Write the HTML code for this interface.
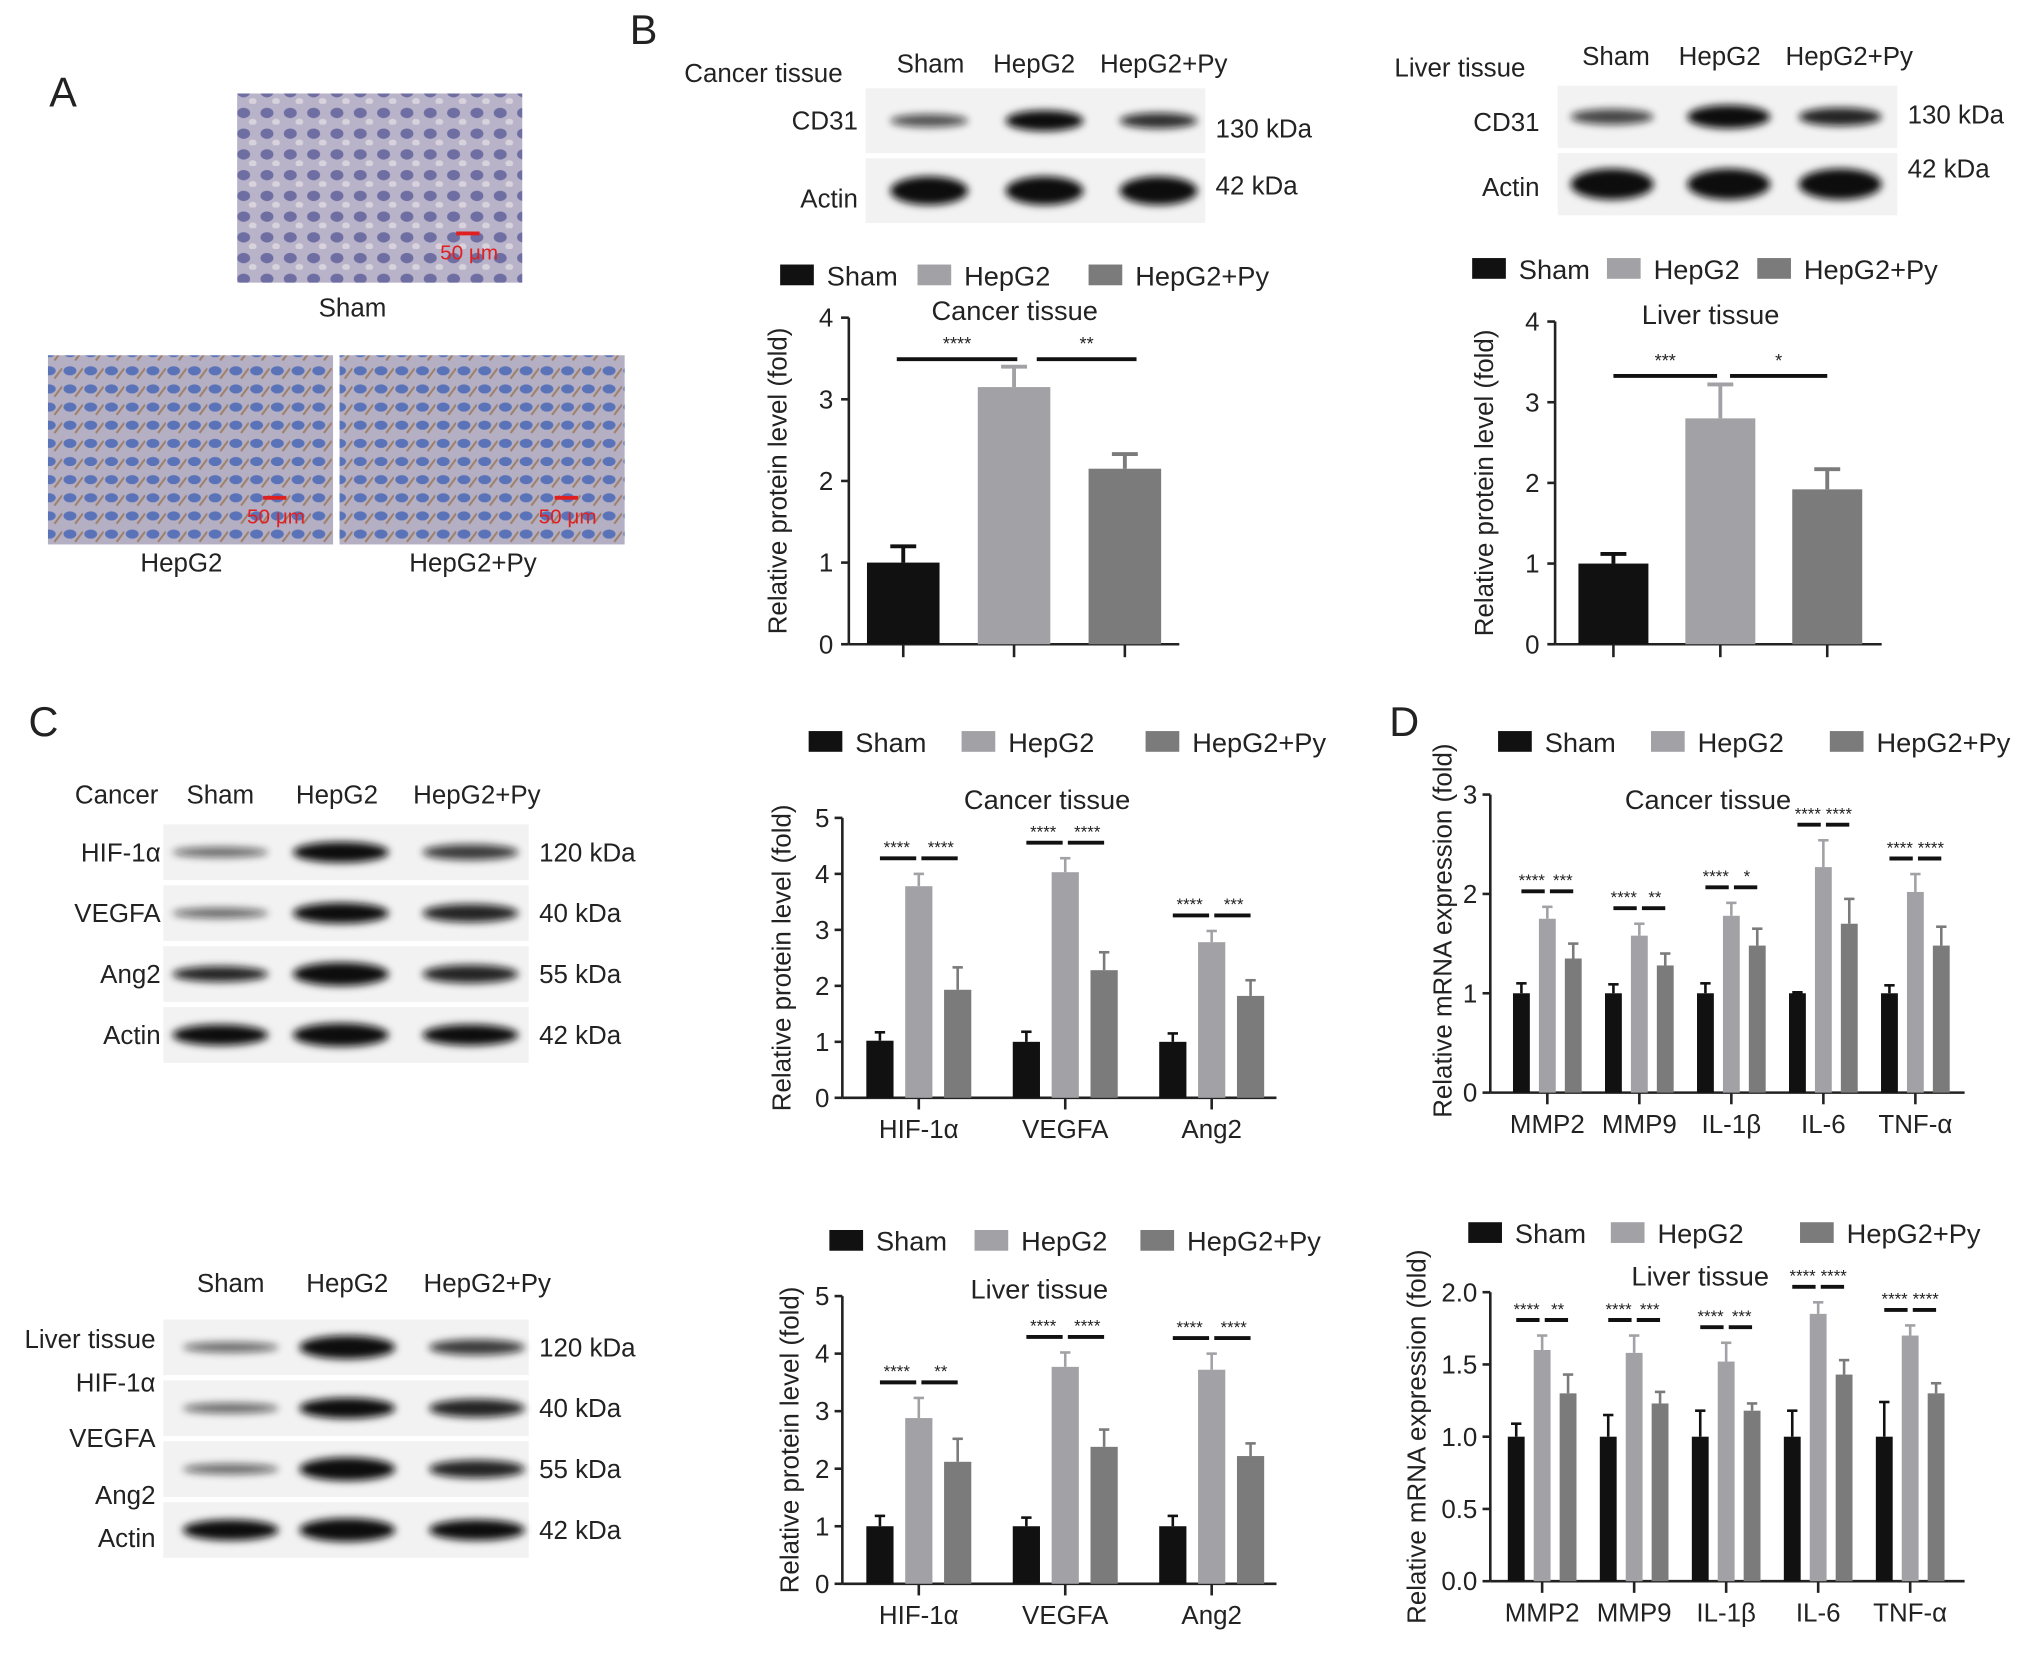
<!DOCTYPE html>
<html><head><meta charset="utf-8"><style>
html,body{margin:0;padding:0;background:#fff;}
svg{display:block;}
text{font-family:"Liberation Sans",sans-serif;fill:#222;}
</style></head><body>
<svg id="fig" width="2032" height="1663" viewBox="0 0 1568 1283" xmlns="http://www.w3.org/2000/svg">
<defs>
<filter id="blur" x="-30%" y="-100%" width="160%" height="300%"><feGaussianBlur stdDeviation="3"/></filter>
<pattern id="cellsP" width="18" height="16" patternUnits="userSpaceOnUse"><rect width="18" height="16" fill="#b9b3c9"/><ellipse cx="8" cy="7" rx="5" ry="4" fill="#6f6ea3"/><ellipse cx="15" cy="14" rx="3" ry="2.5" fill="#d8d2dc"/></pattern>
<pattern id="cellsB" width="16" height="14" patternUnits="userSpaceOnUse"><rect width="16" height="14" fill="#b4afc3"/><ellipse cx="6" cy="6" rx="5" ry="3.5" fill="#5a73b8"/><line x1="10" y1="12" x2="16" y2="4" stroke="#9f7f66" stroke-width="1.5"/></pattern>
</defs>
<g id="root"></g>
</svg>
<script>
const NS='http://www.w3.org/2000/svg';
const root=document.getElementById('root');
function mk(tag,attrs,parent,txt){const e=document.createElementNS(NS,tag);for(const k in attrs)e.setAttribute(k,attrs[k]);if(txt!==undefined)e.textContent=txt;(parent||root).appendChild(e);return e;}
const COLORS=['#111111','#a2a2a6','#7b7b7b'];
const groups=['Sham','HepG2','HepG2+Py'];

// ---- data ----
const bCancerVals=[1.0,3.15,2.15];
const bCancerErr=[0.2,0.25,0.18];
const bLiverVals=[1.0,2.8,1.92];
const bLiverErr=[0.12,0.42,0.25];
const cCats=['HIF-1α','VEGFA','Ang2'];
const cCancerSham=[1.02,1.0,1.0];
const cCancerHep=[3.78,4.03,2.78];
const cCancerPy=[1.93,2.28,1.82];
const cCancerErrSham=[0.15,0.18,0.15];
const cCancerErrHep=[0.22,0.25,0.2];
const cCancerErrPy=[0.4,0.32,0.28];
const cLiverSham=[1.0,1.0,1.0];
const cLiverHep=[2.88,3.77,3.72];
const cLiverPy=[2.12,2.38,2.22];
const cLiverErrSham=[0.18,0.15,0.18];
const cLiverErrHep=[0.35,0.25,0.28];
const cLiverErrPy=[0.4,0.3,0.22];
const dCats=['MMP2','MMP9','IL-1β','IL-6','TNF-α'];
const dCancerSham=[1.0,1.0,1.0,1.0,1.0];
const dCancerHep=[1.75,1.58,1.78,2.27,2.02];
const dCancerPy=[1.35,1.28,1.48,1.7,1.48];
const dCancerErrSham=[0.1,0.09,0.1,0.01,0.08];
const dCancerErrHep=[0.12,0.12,0.13,0.27,0.18];
const dCancerErrPy=[0.15,0.12,0.17,0.25,0.19];
const dLiverSham=[1.0,1.0,1.0,1.0,1.0];
const dLiverHep=[1.6,1.58,1.52,1.85,1.7];
const dLiverPy=[1.3,1.23,1.18,1.43,1.3];
const dLiverErrSham=[0.09,0.15,0.18,0.18,0.24];
const dLiverErrHep=[0.1,0.12,0.13,0.08,0.07];
const dLiverErrPy=[0.13,0.08,0.05,0.1,0.07];
const sigDC=[['****','***'],['****','**'],['****','*'],['****','****'],['****','****']];
const sigDL=[['****','**'],['****','***'],['****','***'],['****','****'],['****','****']];
const sigCC=[['****','****'],['****','****'],['****','***']];
const sigCL=[['****','**'],['****','****'],['****','****']];

function legend(x,y,gaps,name){
  const g=mk('g',{});
  let cx=x;
  groups.forEach((s,i)=>{
    const r=mk('rect',{x:cx,y:y-9,width:26,height:16,fill:COLORS[i]},g);
    
    
    const t=mk('text',{x:cx+36,y:y+7,'font-size':21},g,s);
    
    
    cx+=gaps[i];
  });
}

function chartB(o){
  const g=mk('g',{});
  const y=v=>o.y0-(v/o.ymax)*(o.y0-o.ytop);
  mk('line',{x1:o.x0,y1:o.ytop,x2:o.x0,y2:o.y0,stroke:'#222','stroke-width':2},g);
  mk('line',{x1:o.x0,y1:o.y0,x2:o.x1,y2:o.y0,stroke:'#222','stroke-width':2},g);
  for(let t=0;t<=o.ymax;t++){
    mk('line',{x1:o.x0-6,y1:y(t),x2:o.x0,y2:y(t),stroke:'#222','stroke-width':2},g);
    const tx=mk('text',{x:o.x0-12,y:y(t)+7,'font-size':20,'text-anchor':'end'},g,String(t));
    
    
  }
  o.vals.forEach((v,i)=>{
    const cx=o.cx[i];
    mk('line',{x1:cx,y1:o.y0,x2:cx,y2:o.y0+10,stroke:'#222','stroke-width':2},g);
    const e=y(v+o.err[i]);
    mk('line',{x1:cx,y1:y(v),x2:cx,y2:e,stroke:COLORS[i],'stroke-width':3},g);
    mk('line',{x1:cx-10,y1:e,x2:cx+10,y2:e,stroke:COLORS[i],'stroke-width':3},g);
    const b=mk('rect',{x:cx-o.bw/2,y:y(v),width:o.bw,height:o.y0-y(v),fill:COLORS[i]},g);
    
    
  });
  const t=mk('text',{x:o.titleX,y:o.ytop+2,'font-size':21,'text-anchor':'middle'},g,o.title);
  
  
  const yl=mk('text',{transform:`translate(${o.x0-48},${(o.ytop+o.y0)/2}) rotate(-90)`,'font-size':20,'text-anchor':'middle'},g,'Relative protein level (fold)');
  
  
  o.sig.forEach(s=>{
    mk('line',{x1:s[0],y1:s[2],x2:s[1],y2:s[2],stroke:'#111','stroke-width':3},g);
    mk('text',{x:(s[0]+s[1])/2,y:s[2]-7,'font-size':14,'text-anchor':'middle'},g,s[3]);
  });
}

function chartG(o){
  const g=mk('g',{});
  const y=v=>o.y0-(v/o.ymax)*(o.y0-o.ytop);
  mk('line',{x1:o.x0,y1:o.ytop,x2:o.x0,y2:o.y0,stroke:'#222','stroke-width':2},g);
  mk('line',{x1:o.x0,y1:o.y0,x2:o.x1,y2:o.y0,stroke:'#222','stroke-width':2},g);
  o.ticks.forEach(t=>{
    mk('line',{x1:o.x0-6,y1:y(t),x2:o.x0,y2:y(t),stroke:'#222','stroke-width':2},g);
    const tx=mk('text',{x:o.x0-10,y:y(t)+7,'font-size':20,'text-anchor':'end'},g,o.fmt(t));
    
    
  });
  const series=[o.s0,o.s1,o.s2], errs=[o.e0,o.e1,o.e2];
  o.cats.forEach((c,ci)=>{
    const gx=o.gx0+ci*o.gsp;
    mk('line',{x1:gx,y1:o.y0,x2:gx,y2:o.y0+9,stroke:'#222','stroke-width':2},g);
    const cl=mk('text',{x:gx,y:o.y0+31,'font-size':20,'text-anchor':'middle'},g,c);
    
    
    series.forEach((s,si)=>{
      const cx=gx+(si-1)*o.off, v=s[ci], e=y(v+errs[si][ci]);
      mk('line',{x1:cx,y1:y(v),x2:cx,y2:e,stroke:COLORS[si],'stroke-width':2},g);
      mk('line',{x1:cx-4,y1:e,x2:cx+4,y2:e,stroke:COLORS[si],'stroke-width':2},g);
      const b=mk('rect',{x:cx-o.bw/2,y:y(v),width:o.bw,height:o.y0-y(v),fill:COLORS[si]},g);
      
      
    });
    const top=y(o.s1[ci]+o.e1[ci])-o.sigGap;
    mk('line',{x1:gx-o.off,y1:top,x2:gx-2,y2:top,stroke:'#111','stroke-width':3},g);
    mk('line',{x1:gx+2,y1:top,x2:gx+o.off,y2:top,stroke:'#111','stroke-width':3},g);
    mk('text',{x:gx-o.off/2-2,y:top-4,'font-size':13,'text-anchor':'middle'},g,o.sig[ci][0]);
    mk('text',{x:gx+o.off/2+2,y:top-4,'font-size':13,'text-anchor':'middle'},g,o.sig[ci][1]);
  });
  const t=mk('text',{x:o.titleX,y:o.titleY,'font-size':21,'text-anchor':'middle'},g,o.title);
  
  
  const yl=mk('text',{transform:`translate(${o.ylx},${(o.ytop+o.y0)/2+o.yloff}) rotate(-90)`,'font-size':20,'text-anchor':'middle'},g,o.ylabel);
  
  
}

function blot(o){
  const g=mk('g',{});
  o.rows.forEach((r,ri)=>{
    const yy=o.y+ri*o.rh;
    mk('rect',{x:o.x,y:yy,width:o.w,height:o.rh-4,fill:'#f2f2f2'},g);
    o.lanes.forEach((lx,li)=>{
      const ry=r.thick[li];
      const e=mk('ellipse',{cx:lx,cy:yy+(o.rh-4)/2,rx:o.bw/2,ry:ry,fill:'#111',opacity:r.op[li],filter:'url(#blur)'},g);
      
      
    });
    if(r.label){const t=mk('text',{x:o.lx,y:yy+o.rh/2+5+(r.ldy||0),'font-size':20,'text-anchor':'end'},g,r.label);}
    const k=mk('text',{x:o.x+o.w+8,y:yy+o.rh/2+5+(r.kdy||0),'font-size':20},g,r.kda);
    
    
  });
}

[['A',38,82],['B',486,34],['C',22,568],['D',1072,568]].forEach(p=>{
  const t=mk('text',{x:p[1],y:p[2],'font-size':32},root,p[0]);
  
  
});

const a=mk('g',{});
mk('rect',{x:183,y:72,width:220,height:146,fill:'url(#cellsP)'},a);
mk('rect',{x:37,y:274,width:220,height:146,fill:'url(#cellsB)'},a);
mk('rect',{x:262,y:274,width:220,height:146,fill:'url(#cellsB)'},a);
[[352,180,362,200],[203,384,213,404],[428,384,438,404]].forEach(s=>{
  mk('line',{x1:s[0],y1:s[1],x2:s[0]+18,y2:s[1],stroke:'#e02020','stroke-width':3},a);
  mk('text',{x:s[2],y:s[3],'font-size':16,'text-anchor':'middle',style:'fill:#e02020'},a,'50 μm');
});
[['Sham',272,244],['HepG2',140,441],['HepG2+Py',365,441]].forEach(l=>{
  const t=mk('text',{x:l[1],y:l[2],'font-size':20,'text-anchor':'middle'},a,l[0]);
  
  
});

mk('text',{x:528,y:63,'font-size':20},root,'Cancer tissue');
mk('text',{x:1076,y:59,'font-size':20},root,'Liver tissue');
[['Sham',718,56],['HepG2',798,56],['HepG2+Py',898,56],['Sham',1247,50],['HepG2',1327,50],['HepG2+Py',1427,50]].forEach(l=>mk('text',{x:l[1],y:l[2],'font-size':20,'text-anchor':'middle'},root,l[0]));
blot({name:'blot-b-cancer',x:668,y:68,w:262,rh:54,lanes:[717,806,894],bw:60,lx:662,rows:[
  {label:'CD31',kda:'130 kDa',thick:[5,8,6],op:[0.7,1,0.85],kdy:6},
  {label:'Actin',kda:'42 kDa',thick:[11,11,11],op:[1,1,1],ldy:6,kdy:-4}]});
blot({name:'blot-b-liver',x:1202,y:66,w:262,rh:52,lanes:[1244,1334,1420],bw:64,lx:1188,rows:[
  {label:'CD31',kda:'130 kDa',thick:[6,9,7],op:[0.75,1,0.9],ldy:4,kdy:-2},
  {label:'Actin',kda:'42 kDa',thick:[12,12,12],op:[1,1,1],ldy:2,kdy:-12}]});

legend(602,213,[106,132,0],'legend-b-cancer');
legend(1136,208,[104,116,0],'legend-b-liver');
chartB({name:'chart-b-cancer',x0:655,x1:910,y0:497,ytop:245,ymax:4,cx:bCancerVals.map((_,i)=>697+i*85.5),bw:56,vals:bCancerVals,err:bCancerErr,title:'Cancer tissue',titleX:783,
  sig:[[692,785,277,'****'],[800,877,277,'**']]});
chartB({name:'chart-b-liver',x0:1200,x1:1452,y0:497,ytop:248,ymax:4,cx:bLiverVals.map((_,i)=>1245+i*82.5),bw:54,vals:bLiverVals,err:bLiverErr,title:'Liver tissue',titleX:1320,
  sig:[[1245,1325,290,'***'],[1335,1410,290,'*']]});

[['Cancer',90,620],['Sham',170,620],['HepG2',260,620],['HepG2+Py',368,620]].forEach(l=>mk('text',{x:l[1],y:l[2],'font-size':20,'text-anchor':'middle'},root,l[0]));
blot({name:'blot-c-cancer',x:126,y:636,w:282,rh:47,lanes:[170,263,363],bw:74,lx:124,rows:[
  {label:'HIF-1α',kda:'120 kDa',thick:[4,8,6],op:[0.6,1,0.8]},
  {label:'VEGFA',kda:'40 kDa',thick:[4,8,7],op:[0.6,1,0.9]},
  {label:'Ang2',kda:'55 kDa',thick:[6,9,7],op:[0.9,1,0.9]},
  {label:'Actin',kda:'42 kDa',thick:[8,9,8],op:[1,1,1]}]});
[['Sham',178,997],['HepG2',268,997],['HepG2+Py',376,997]].forEach(l=>mk('text',{x:l[1],y:l[2],'font-size':20,'text-anchor':'middle'},root,l[0]));
blot({name:'blot-c-liver',x:126,y:1018,w:282,rh:47,lanes:[178,268,368],bw:74,lx:120,rows:[
  {label:'HIF-1α',kda:'120 kDa',thick:[4,9,6],op:[0.6,1,0.8],ldy:27},
  {label:'VEGFA',kda:'40 kDa',thick:[4,8,7],op:[0.6,1,0.9],ldy:23},
  {label:'Ang2',kda:'55 kDa',thick:[4,9,7],op:[0.6,1,0.9],ldy:20},
  {label:'Actin',kda:'42 kDa',thick:[8,9,8],op:[1,1,1],ldy:6}]});
mk('text',{x:120,y:1040,'font-size':20,'text-anchor':'end'},root,'Liver tissue');

legend(624,573,[118,142,0],'legend-c-cancer');
legend(640,958,[112,128,0],'legend-c-liver');
chartG({name:'chart-c-cancer',x0:650,x1:985,y0:847,ytop:631,ymax:5,ticks:[0,1,2,3,4,5],fmt:t=>String(t),cats:cCats,gx0:709,gsp:113,off:30,bw:21,
  s0:cCancerSham,s1:cCancerHep,s2:cCancerPy,e0:cCancerErrSham,e1:cCancerErrHep,e2:cCancerErrPy,sig:sigCC,sigGap:12,title:'Cancer tissue',titleX:808,titleY:624,ylabel:'Relative protein level (fold)',ylx:610,yloff:0});
chartG({name:'chart-c-liver',x0:650,x1:985,y0:1222,ytop:1000,ymax:5,ticks:[0,1,2,3,4,5],fmt:t=>String(t),cats:cCats,gx0:709,gsp:113,off:30,bw:21,
  s0:cLiverSham,s1:cLiverHep,s2:cLiverPy,e0:cLiverErrSham,e1:cLiverErrHep,e2:cLiverErrPy,sig:sigCL,sigGap:12,title:'Liver tissue',titleX:802,titleY:1002,ylabel:'Relative protein level (fold)',ylx:616,yloff:0});

legend(1156,573,[118,138,0],'legend-d-cancer');
legend(1133,952,[110,146,0],'legend-d-liver');
chartG({name:'chart-d-cancer',x0:1150,x1:1516,y0:843,ytop:613,ymax:3,ticks:[0,1,2,3],fmt:t=>String(t),cats:dCats,gx0:1194,gsp:71,off:20,bw:13,
  s0:dCancerSham,s1:dCancerHep,s2:dCancerPy,e0:dCancerErrSham,e1:dCancerErrHep,e2:dCancerErrPy,sig:sigDC,sigGap:12,title:'Cancer tissue',titleX:1318,titleY:624,ylabel:'Relative mRNA expression (fold)',ylx:1120,yloff:-10});
chartG({name:'chart-d-liver',x0:1150,x1:1516,y0:1220,ytop:997,ymax:2,ticks:[0,0.5,1,1.5,2],fmt:t=>t.toFixed(1),cats:dCats,gx0:1190,gsp:71,off:20,bw:13,
  s0:dLiverSham,s1:dLiverHep,s2:dLiverPy,e0:dLiverErrSham,e1:dLiverErrHep,e2:dLiverErrPy,sig:sigDL,sigGap:12,title:'Liver tissue',titleX:1312,titleY:992,ylabel:'Relative mRNA expression (fold)',ylx:1100,yloff:0});
</script>
</body></html>
